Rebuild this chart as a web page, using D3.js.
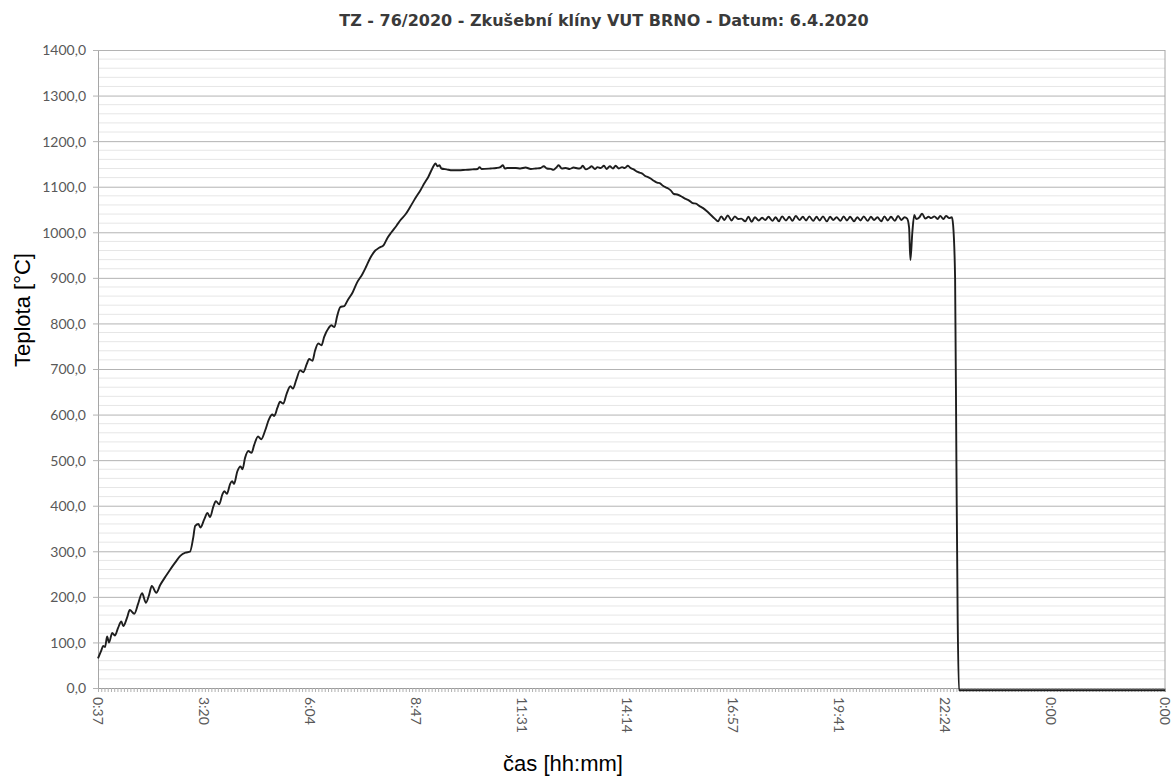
<!DOCTYPE html>
<html>

<head>
  <meta charset="UTF-8">
  <title>TZ - 76/2020</title>
  <script src="https://d3js.org/d3.v7.min.js"></script>
  <style>
    body {
      margin: 0;
      background: #fff;
    }

    #chart {
      width: 1173px;
      height: 776px;
    }

    .title {
      font-family: "DejaVu Sans", sans-serif;
      font-weight: bold;
      font-size: 16px;
      fill: #3a3a3a;
    }

    .tick-label {
      font-family: Lato, "Liberation Sans", sans-serif;
      font-size: 14px;
      fill: #595959;
    }

    .axis-title {
      font-family: "Liberation Sans", Arial, sans-serif;
      font-size: 22px;
      fill: #000;
    }
  </style>
</head>

<body>
  <div id="chart"></div>
  <script>
    // time in minutes from 0:00, temperature in °C
    var timeMin = [
      37, 42, 45, 48, 51, 54, 59, 63, 68, 73, 76, 82, 86, 93, 99, 105, 111, 116, 120, 127,
      133, 141, 148, 156, 164, 172, 179, 184, 187, 192, 195, 201, 206, 210, 215, 219, 224, 229, 232, 236,
      241, 244, 247, 252, 257, 260, 264, 269, 274, 278, 284, 289, 295, 301, 306, 309, 314, 318, 323, 328,
      334, 338, 343, 349, 354, 359, 363, 368, 372, 377, 382, 386, 393, 397, 402, 406, 411, 417, 422, 430,
      437, 445, 451, 457, 465, 471, 478, 484, 490, 498, 504, 512, 519, 527, 535, 541, 547, 553, 558, 561,
      564, 567, 575, 584, 594, 604, 615, 623, 626, 629, 643, 652, 658, 662, 665, 669, 682, 689, 697, 705,
      713, 720, 725, 730, 736, 740, 745, 748, 753, 759, 765, 771, 778, 782, 785, 790, 795, 799, 804, 808,
      813, 818, 822, 827, 832, 836, 841, 846, 850, 855, 859, 864, 869, 873, 878, 881, 886, 890, 895, 900,
      904, 909, 914, 917, 921, 926, 931, 937, 943, 949, 955, 960, 965, 971, 977, 983, 989, 994,
      999, 1004, 1009, 1015, 1020, 1025, 1030, 1036, 1041, 1046, 1051, 1057, 1062, 1067, 1072, 1078, 1083, 1088, 1093, 1099,
      1104, 1109, 1114, 1120, 1125, 1130, 1135, 1141, 1146, 1151, 1156, 1162, 1167, 1172, 1177, 1183, 1188, 1193, 1198, 1204,
      1209, 1214, 1219, 1225, 1230, 1235, 1240, 1246, 1251, 1256, 1261, 1267, 1272, 1277, 1282, 1286,
      1289, 1291, 1294, 1297, 1300, 1305, 1309, 1314, 1319, 1323, 1328, 1333, 1337, 1342, 1346, 1351, 1355, 1357,
      1360, 1362, 1364, 1366, 1684
    ];

    var tempC = [
      65, 82, 92, 90, 113, 100, 121, 115, 132, 146, 136, 155, 171, 163, 185, 208, 187, 205, 224, 209,
      226, 244, 259, 275, 290, 297, 299, 330, 356, 360, 352, 370, 384, 375, 398, 410, 403, 425, 432, 426,
      448, 454, 448, 475, 486, 480, 505, 520, 516, 533, 552, 546, 565, 590, 600, 597, 615, 628, 624, 645,
      662, 657, 676, 697, 693, 710, 722, 718, 740, 756, 752, 770, 790, 796, 792, 815, 836, 838, 850, 868,
      890, 908, 925, 943, 960, 966, 972, 988, 1000, 1015, 1027, 1040, 1056, 1075, 1093, 1108, 1122, 1140, 1151, 1145,
      1147, 1140, 1138, 1136, 1136, 1137, 1138, 1139, 1143, 1139, 1140, 1141, 1143, 1147, 1140, 1141, 1141, 1140, 1142, 1139,
      1140, 1141, 1145, 1140, 1139, 1137, 1143, 1147, 1140, 1141, 1139, 1142, 1140, 1141, 1146, 1138, 1141, 1145, 1139, 1143,
      1141, 1146, 1139, 1145, 1140, 1146, 1140, 1143, 1141, 1146, 1141, 1138, 1133, 1131, 1128, 1124, 1121, 1118, 1113, 1109,
      1108, 1102, 1098, 1096, 1092, 1084, 1083, 1079, 1074, 1070, 1064, 1063, 1058, 1053, 1046, 1038, 1030, 1024,
      1035, 1027, 1037, 1026, 1035, 1029, 1030, 1024, 1034, 1023, 1033, 1026, 1032, 1027, 1034, 1025, 1033, 1024, 1035, 1026,
      1034, 1025, 1036, 1027, 1034, 1026, 1035, 1025, 1034, 1026, 1035, 1024, 1034, 1027, 1033, 1025, 1035, 1026, 1034, 1024,
      1033, 1026, 1035, 1025, 1034, 1027, 1033, 1024, 1035, 1026, 1034, 1025, 1036, 1027, 1033, 1030,
      1010, 939, 1000, 1038, 1029, 1033, 1041, 1030, 1034, 1031, 1035, 1029, 1036, 1029, 1036, 1031, 1033, 1015,
      900, 500, 150, -5, -5
    ];

    var yTicks = [0, 100, 200, 300, 400, 500, 600, 700, 800, 900, 1000, 1100, 1200, 1300, 1400];
    var xTickMin = [37, 200, 364, 527, 691, 854, 1017, 1181, 1344, 1508, 1684];
    var xTickLabels = ["0:37", "3:20", "6:04", "8:47", "11:31", "14:14", "16:57", "19:41", "22:24", "0:00", "0:00"];

    var data = timeMin.map(function (t, i) { return { t: t, v: tempC[i] }; });

    var width = 1173, height = 776;
    var margin = { left: 98, right: 8, top: 50, bottom: 88 };

    var svg = d3.select("#chart").append("svg")
      .attr("width", width)
      .attr("height", height);

    var x = d3.scaleLinear()
      .domain([37, 1684])
      .range([margin.left, width - margin.right]);

    var y = d3.scaleLinear()
      .domain([0, 1400])
      .range([height - margin.bottom, margin.top]);

    var cz = d3.formatLocale({ decimal: ",", thousands: "", grouping: [3], currency: ["", ""] });
    var fmt = cz.format(".1f");

    // minor grid every 20
    svg.append("g")
      .selectAll("line")
      .data(d3.range(20, 1400, 20).filter(function (d) { return d % 100 !== 0; }))
      .enter().append("line")
      .attr("x1", x(37)).attr("x2", x(1684))
      .attr("y1", function (d) { return y(d); })
      .attr("y2", function (d) { return y(d); })
      .attr("stroke", "#e6e6e6")
      .attr("stroke-width", 1);

    // major grid + y axis
    var yAxis = svg.append("g")
      .attr("transform", "translate(" + margin.left + ",0)")
      .call(d3.axisLeft(y)
        .tickValues(yTicks)
        .tickSize(-(width - margin.left - margin.right))
        .tickPadding(12)
        .tickFormat(fmt));
    yAxis.select(".domain").attr("stroke", "#a6a6a6");
    yAxis.selectAll(".tick line").attr("stroke", "#b3b3b3").attr("x1", -5);
    yAxis.selectAll(".tick text").attr("class", "tick-label").attr("dy", "0.35em");

    // right border
    svg.append("line")
      .attr("x1", x(1684)).attr("x2", x(1684))
      .attr("y1", y(1400)).attr("y2", y(0))
      .attr("stroke", "#a6a6a6");

    // x axis with dense minor ticks
    var xAxis = svg.append("g")
      .attr("transform", "translate(0," + y(0) + ")")
      .call(d3.axisBottom(x)
        .tickValues(d3.range(37, 1684, 5))
        .tickSize(4)
        .tickFormat(""));
    xAxis.select(".domain").attr("stroke", "#999");
    xAxis.selectAll(".tick line").attr("stroke", "#b0b0b0");

    svg.append("g")
      .selectAll("text")
      .data(xTickMin)
      .enter().append("text")
      .attr("class", "tick-label")
      .attr("transform", function (d) { return "translate(" + x(d) + "," + (y(0) + 9) + ") rotate(90)"; })
      .attr("dy", "0.35em")
      .attr("text-anchor", "start")
      .text(function (d, i) { return xTickLabels[i]; });

    // temperature line
    var line = d3.line()
      .x(function (d) { return x(d.t); })
      .y(function (d) { return y(d.v); })
      .curve(d3.curveMonotoneX);

    svg.append("path")
      .datum(data)
      .attr("fill", "none")
      .attr("stroke", "#1e1e1e")
      .attr("stroke-width", 1.9)
      .attr("stroke-linejoin", "round")
      .attr("d", line);

    // titles
    svg.append("text")
      .attr("class", "title")
      .attr("x", 604)
      .attr("y", 26)
      .attr("text-anchor", "middle")
      .text("TZ - 76/2020 - Zkušební klíny VUT BRNO - Datum: 6.4.2020");

    svg.append("text")
      .attr("class", "axis-title")
      .attr("transform", "translate(30,310) rotate(-90)")
      .attr("text-anchor", "middle")
      .text("Teplota [°C]");

    svg.append("text")
      .attr("class", "axis-title")
      .attr("x", 563)
      .attr("y", 771)
      .attr("text-anchor", "middle")
      .text("čas [hh:mm]");
  </script>
</body>

</html>
